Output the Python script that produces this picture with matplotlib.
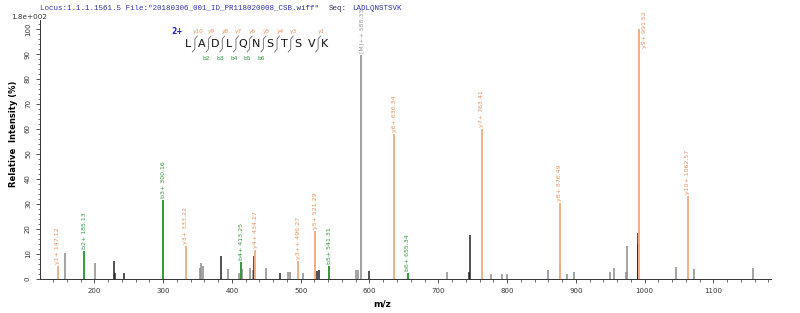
import matplotlib.pyplot as plt
from matplotlib.ticker import MultipleLocator

# annotated fragment ions
ion_mz = [147.12, 185.13, 300.16, 333.22, 413.25, 434.27, 496.27, 521.29, 541.31,
          588.33, 636.34, 655.34, 763.41, 876.49, 991.52, 1062.57]
ion_int = [5, 11, 31.5, 13, 6.6, 11.7, 7, 19, 5.3, 89.5, 58, 2.5, 60, 30.5, 100, 33]
ion_name = ['y1+', 'b2+', 'b3+', 'y3+', 'b4+', 'y4+', 'y3++', 'y5+', 'b5+',
            '[M]++', 'y6+', 'b6+', 'y7+', 'y8+', 'y9+', 'y10+']
ion_type = ['y', 'b', 'b', 'y', 'b', 'y', 'y', 'y', 'b', 'M', 'y', 'b', 'y', 'y', 'y', 'y']

# unannotated peaks (d = dark, g = gray)
peak_mz = [157, 201, 229, 229.6, 243, 353, 355.5, 357.5, 384, 395, 410, 414, 427, 430,
           432, 449, 470, 482, 485, 504, 524, 526, 581, 584, 600, 712, 745, 746, 776,
           792, 800, 859, 877, 887, 898, 949, 955, 973, 975, 990, 991, 1045, 1072, 1157]
peak_int = [10.4, 6.4, 7.2, 2.4, 2.5, 4.4, 6.4, 5.3, 9.3, 4, 2.5, 4, 4.4, 3.5,
            9.3, 4.3, 2.5, 2.9, 2.7, 2.5, 3.2, 3.4, 3.7, 3.5, 3, 2.9, 2.9, 17.7, 2.1,
            2, 2.1, 3.7, 6, 2.1, 2.7, 2.9, 4.4, 2.9, 13.2, 14, 18.4, 4.7, 4.1, 4.3]
peak_shade = ['g', 'g', 'd', 'd', 'd', 'g', 'g', 'g', 'd', 'g', 'g', 'g', 'g', 'g',
              'd', 'g', 'd', 'g', 'g', 'g', 'd', 'd', 'g', 'g', 'd', 'g', 'd', 'd', 'g',
              'g', 'g', 'g', 'd', 'g', 'g', 'g', 'g', 'g', 'g', 'd', 'd', 'g', 'g', 'g']

sequence = list('LADLQNSTSVK')
y_cuts = {0: 'y10', 1: 'y9', 2: 'y8', 3: 'y7', 4: 'y6', 5: 'y5', 6: 'y4', 7: 'y3', 9: 'y1'}
b_cuts = {1: 'b2', 2: 'b3', 3: 'b4', 4: 'b5', 5: 'b6'}

line_col = {'y': '#f0b088', 'b': '#2f9a3a', 'M': '#a0a0a0'}
text_col = {'y': '#e8915c', 'b': '#2f9a3a', 'M': '#999999'}
shade_col = {'g': '#8a8a8a', 'd': '#222222'}

fig = plt.figure(figsize=(8, 3.13), dpi=100)
ax = fig.add_axes([0.05, 0.109, 0.914, 0.827])

ax.vlines(peak_mz, 0, peak_int, colors=[shade_col[s] for s in peak_shade], lw=1.1)
for mz, h, name, t in zip(ion_mz, ion_int, ion_name, ion_type):
    ax.vlines(mz, 0, h, colors=line_col[t], lw=1.4)
    label = f'{name} {mz:.2f}'
    if h > 95:
        ax.text(mz + 4, 107, label, rotation=90, ha='left', va='top', fontsize=4.5,
                color=text_col[t], clip_on=False)
    else:
        ax.annotate(label, (mz, h), xytext=(0, 1.5), textcoords='offset points',
                    rotation=90, ha='center', va='bottom', fontsize=4.5,
                    color=text_col[t], annotation_clip=False)

ax.set_xlim(121, 1184)
ax.set_ylim(0, 103.6)
ax.xaxis.set_major_locator(MultipleLocator(100))
ax.xaxis.set_minor_locator(MultipleLocator(20))
ax.yaxis.set_major_locator(MultipleLocator(10))
ax.yaxis.set_minor_locator(MultipleLocator(2))
ax.set_xticks(range(200, 1200, 100))
ax.tick_params(which='major', length=3, width=0.6, labelsize=5, colors='#333333')
ax.tick_params(which='minor', length=1.8, width=0.5, colors='#333333')
for lab in ax.get_yticklabels():
    lab.set_rotation(90)
    lab.set_va('center')
for s in ['top', 'right']:
    ax.spines[s].set_visible(False)
for s in ['left', 'bottom']:
    ax.spines[s].set_linewidth(0.7)
    ax.spines[s].set_color('#333333')
ax.set_xlabel('m/z', fontsize=6.5, fontweight='bold', x=0.468, labelpad=4)
ax.set_ylabel('Relative  Intensity (%)', fontsize=6, fontweight='bold', labelpad=5, y=0.56)

# header and peptide map in pixel coordinates
ov = fig.add_axes([0, 0, 1, 1])
ov.set_xlim(0, 800)
ov.set_ylim(313, 0)
ov.axis('off')
ov.patch.set_visible(False)
ov.text(40, 8, 'Locus:1.1.1.1561.5 File:"20180306_001_ID_PR118020008_CSB.wiff"',
        family='Liberation Mono', fontsize=5.4, color='#3030b0', va='center')
ov.text(329, 8, 'Seq:', family='Liberation Mono', fontsize=5.4, color='#333355', va='center')
ov.text(352, 8, 'LADLQNSTSVK', family='Liberation Mono', fontsize=5.4, color='#3030b0', va='center')
ov.text(11, 17, '1.8e+002', fontsize=5.2, color='#333333', va='center')

ov.text(177, 31, '2+', fontsize=5.5, color='#2020c0', fontweight='bold', ha='center', va='center')
x0, dx = 188, 13.7
for i, aa in enumerate(sequence):
    ov.text(x0 + i * dx, 44, aa, fontsize=8, ha='center', va='center', color='#111111')
for i in range(len(sequence) - 1):
    xm = x0 + (i + 0.5) * dx
    if i not in y_cuts and i not in b_cuts:
        continue
    ov.plot([xm + 2.5, xm, xm, xm - 2.5], [36, 39, 49, 52], color='#666666', lw=0.6)
    if i in y_cuts:
        ov.text(xm + 3, 31, y_cuts[i], fontsize=4.2, color=text_col['y'], ha='center', va='center')
    if i in b_cuts:
        ov.text(xm - 2, 58, b_cuts[i], fontsize=4.2, color=text_col['b'], ha='center', va='center')

fig.savefig('out.png', dpi=100)
